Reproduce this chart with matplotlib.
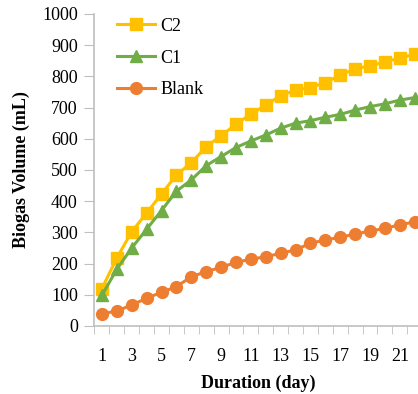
import numpy as np
import matplotlib.pyplot as plt

# cumulative biogas volume
days = np.arange(1, 23)
c2 = [120, 218, 302, 362, 423, 484, 523, 575, 609, 647, 679, 708,
      738, 756, 764, 780, 804, 824, 834, 846, 859, 871]
c1 = [98, 182, 250, 310, 370, 432, 468, 514, 543, 572, 593, 612,
      634, 650, 658, 669, 678, 692, 703, 712, 724, 732]
blank = [39, 48, 67, 89, 108, 126, 158, 174, 188, 204, 214, 222,
         233, 244, 265, 276, 284, 295, 304, 313, 324, 334]

plt.rcParams['font.family'] = 'Liberation Serif'

fig = plt.figure(figsize=(4.18, 3.94), dpi=100)
ax = fig.add_axes([0.226, 0.1726, 0.784, 0.792])

ax.plot(days, c2, color='#FFC000', marker='s', markersize=9, linewidth=2.2, label='C2')
ax.plot(days, c1, color='#70AD47', marker='^', markersize=9, linewidth=2.2, label='C1')
ax.plot(days, blank, color='#ED7D31', marker='o', markersize=8.5, linewidth=2.2, label='Blank')

ax.set_xlim(0.5, 22.5)
ax.set_ylim(0, 1000)
ax.set_yticks(np.arange(0, 1001, 100))
ax.set_xticks(days[::2])
ax.set_xticks(np.arange(0.5, 23, 1), minor=True)
ax.tick_params(axis='x', which='major', length=0, pad=16, labelsize=13)
ax.tick_params(axis='x', which='minor', length=6, color='#BFBFBF', direction='out')
ax.tick_params(axis='y', length=7, color='#BFBFBF', pad=5, labelsize=13)

for s in ['top', 'right']:
    ax.spines[s].set_visible(False)
for s in ['left', 'bottom']:
    ax.spines[s].set_color('#BFBFBF')
    ax.spines[s].set_linewidth(1.2)

ax.set_xlabel('Duration (day)', fontsize=13, fontweight='bold', labelpad=7)
ax.set_ylabel('Biogas Volume (mL)', fontsize=13, fontweight='bold', labelpad=9)

ax.legend(loc='upper left', bbox_to_anchor=(0.02, 1.04), frameon=False,
          fontsize=13, labelspacing=0.82, handlelength=2.1, handletextpad=0.3)

fig.savefig('out.png', dpi=100)
